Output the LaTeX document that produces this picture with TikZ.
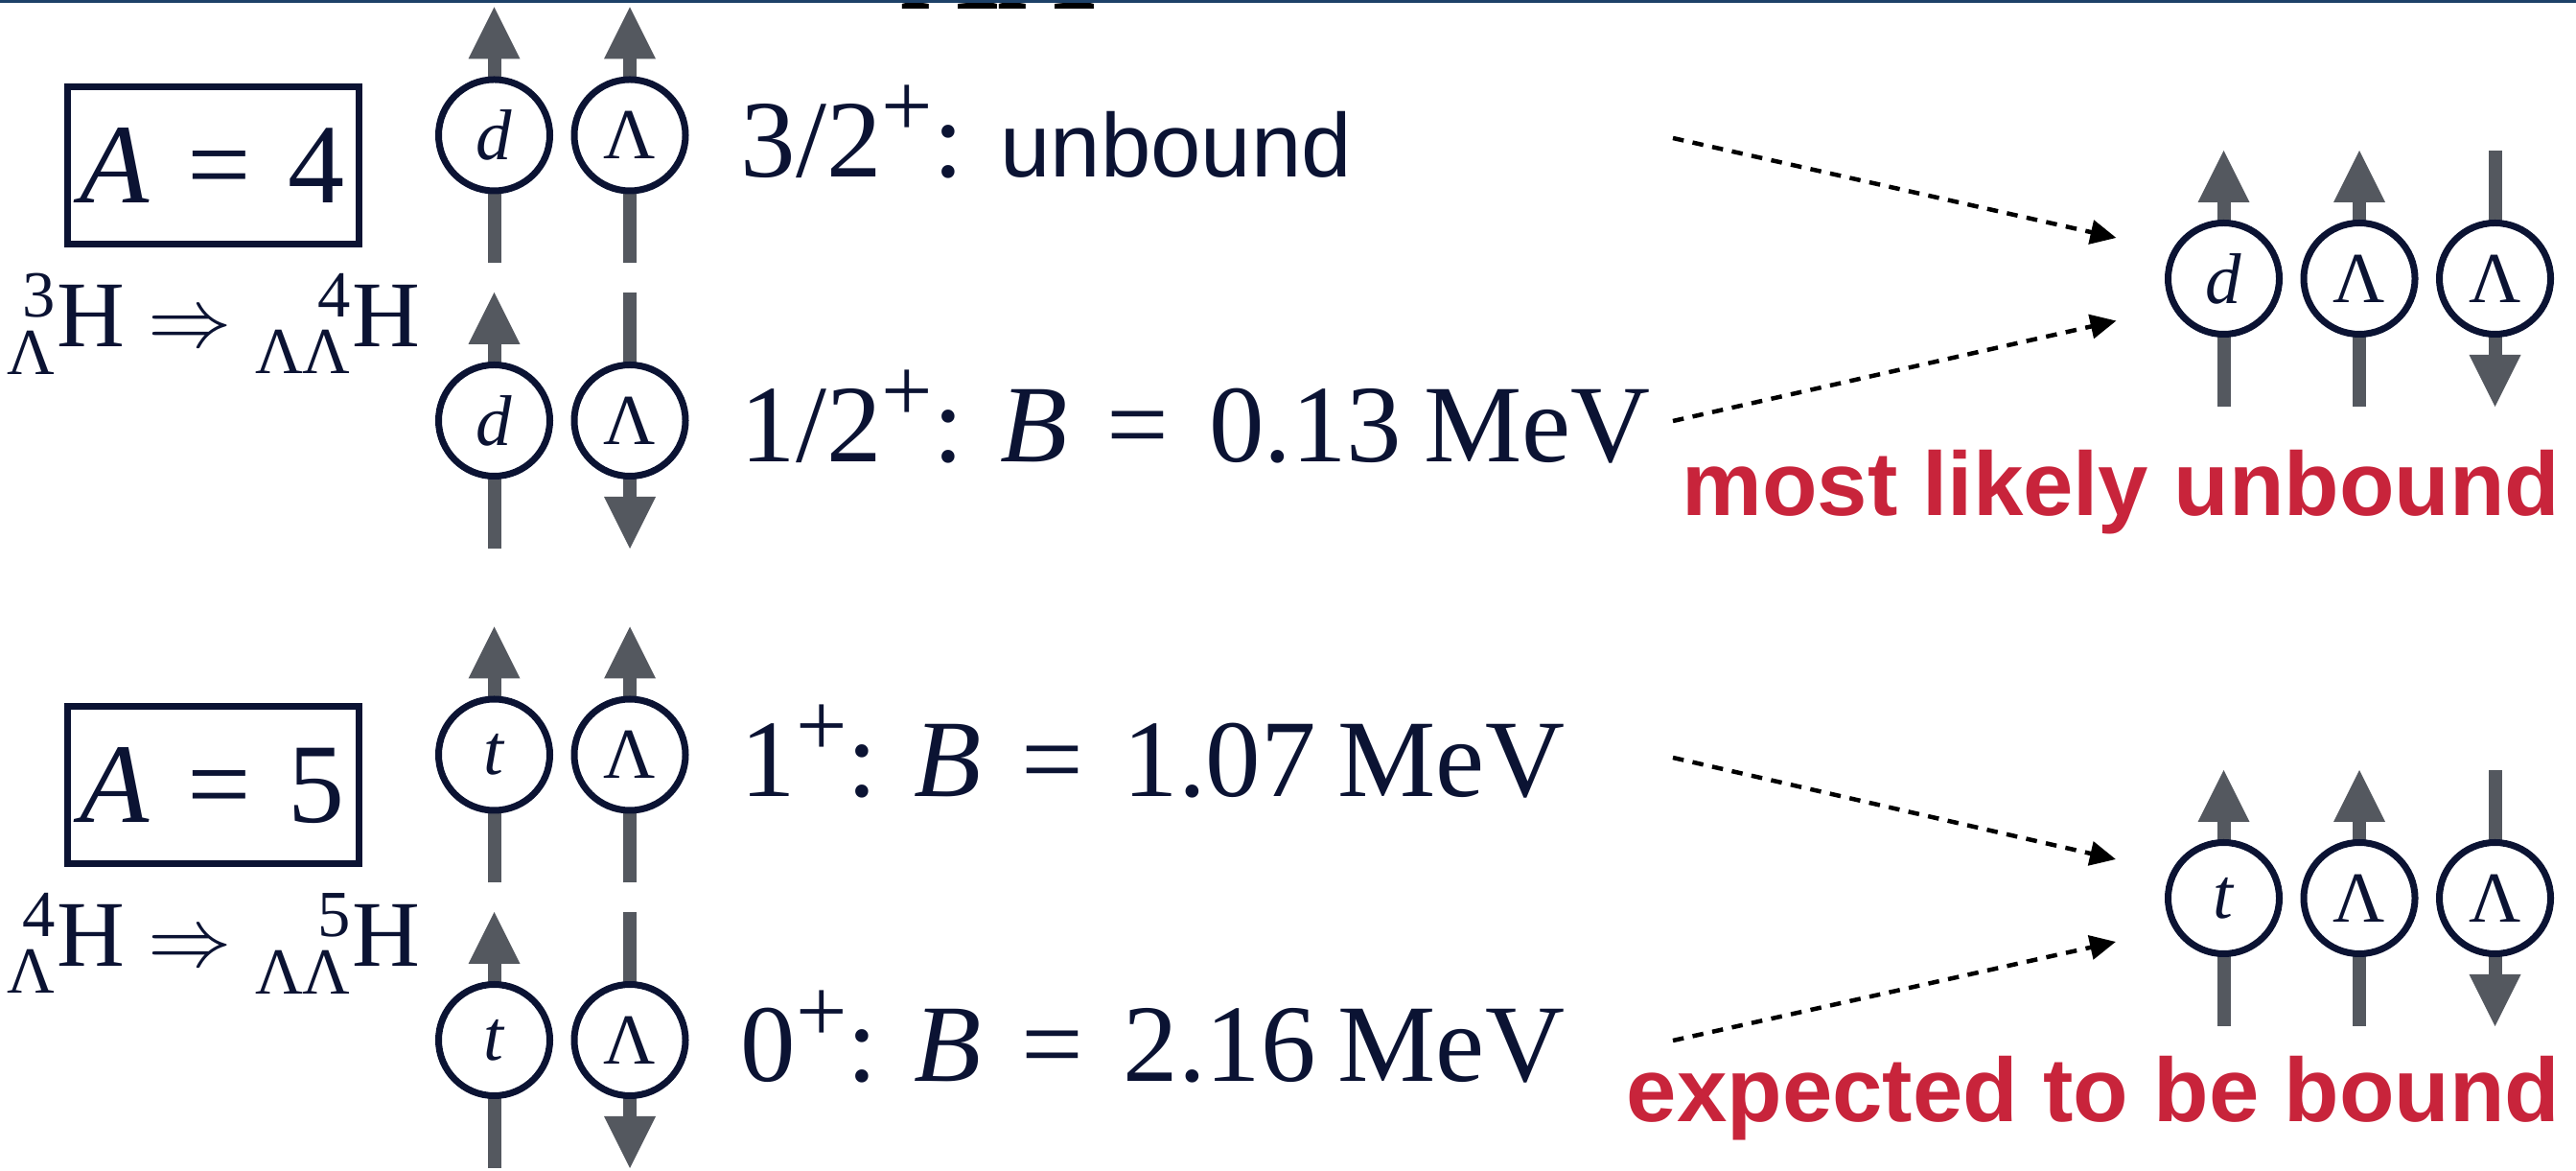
\documentclass[tikz,border=0pt]{standalone}
\usepackage{amsmath}
\usepackage{fontspec}
\setmainfont{Liberation Serif}
\setsansfont{Liberation Sans}
\usepackage{tikz}
\usetikzlibrary{arrows.meta,positioning}
\pgfdeclarelayer{back}
\pgfsetlayers{back,main}
\definecolor{ink}{HTML}{0B1333}
\definecolor{spingray}{HTML}{54585F}
\definecolor{alertred}{HTML}{C8243B}
\definecolor{barblue}{HTML}{1D4168}

\newcommand{\levelfont}{\fontsize{32.7}{36}\selectfont}
\newcommand{\boxfont}{\fontsize{33.6}{36}\selectfont}
\newcommand{\nuclfont}{\fontsize{27.9}{30}\selectfont}
\newcommand{\partfont}{\fontsize{21.3}{24}\selectfont}
\newcommand{\notefont}{\sffamily\fontsize{26.8}{30}\selectfont}
\newcommand{\parplus}{\raisebox{0.42cm}{\fontsize{27}{27}\selectfont +}}
\newcommand{\bind}[1]{\textit{B}\hspace{0.36em}=\hspace{0.36em}#1\hspace{0.2em}MeV}

\tikzset{
  particle/.style={circle,draw=ink,line width=0.07cm,fill=white,minimum size=1.16cm,
    inner sep=0pt,text=ink,font=\partfont},
  spin/.style={draw=spingray,line width=0.14cm,
    -{Triangle[length=0.54cm,width=0.54cm,line width=0pt]}},
  hint/.style={draw=black,line width=0.045cm,dash pattern=on 0.115cm off 0.095cm,
    -{Triangle[length=0.27cm,width=0.25cm]}},
  massbox/.style={draw=ink,line width=0.07cm,minimum width=3.04cm,minimum height=1.64cm,
    inner sep=0pt,text=ink,font=\boxfont},
  nucl/.style={anchor=base west,inner sep=0pt,text=ink,font=\nuclfont},
  stateline/.style={anchor=base west,inner sep=0pt,text=ink,font=\levelfont},
  verdict/.style={anchor=base east,inner sep=0pt,text=alertred,font=\notefont\bfseries}
}

\begin{document}
\begin{tikzpicture}
  \useasboundingbox (0,0) rectangle (26.87,12.21);
  \node[anchor=base west,inner sep=0pt,font=\fontsize{40}{40}\selectfont\bfseries] (cut) at (9.40,12.11) {ΛΛ};
  \fill[barblue] (0,12.175) rectangle (26.87,12.21);

  % A = 4
  \node[massbox] (box4) at (2.22,10.48) {\textit{A}\hspace{0.33em}=\hspace{0.33em}4};
  \node[nucl] (nucl4) at (0.07,8.59) {${}^{\text{\phantom{Λ}\llap{3}}}_{\text{Λ}}\text{H}\Rightarrow{}^{\text{\phantom{ΛΛ}\llap{4}}}_{\text{ΛΛ}}\text{H}$};

  \node[particle] (d4a) at (5.155,10.80) {\textit{d}};
  \node[particle,right=0.185cm of d4a] (l4a) {Λ};
  \node[particle] (d4b) at (5.155,7.825) {\textit{d}};
  \node[particle,right=0.185cm of d4b] (l4b) {Λ};

  \node[stateline] (s4a) at (7.72,10.36) {3/2\parplus: {\notefont unbound}};
  \node[stateline] (s4b) at (7.72,7.39) {1/2\parplus: \bind{0.13}};

  \node[particle] (d4r) at (23.195,9.305) {\textit{d}};
  \node[particle,right=0.185cm of d4r] (l4r) {Λ};
  \node[particle,right=0.185cm of l4r] (m4r) {Λ};

  \coordinate (from4a) at (17.45,10.77);
  \coordinate (to4a) at (22.075,9.73);
  \coordinate (from4b) at (17.45,7.82);
  \coordinate (to4b) at (22.075,8.865);
  \draw[hint] (from4a) -- (to4a);
  \draw[hint] (from4b) -- (to4b);
  \node[verdict] (v4) at (26.71,6.83) {most likely unbound};

  % A = 5
  \node[massbox] (box5) at (2.22,4.02) {\textit{A}\hspace{0.33em}=\hspace{0.33em}5};
  \node[nucl] (nucl5) at (0.07,2.13) {${}^{\text{\phantom{Λ}\llap{4}}}_{\text{Λ}}\text{H}\Rightarrow{}^{\text{\phantom{ΛΛ}\llap{5}}}_{\text{ΛΛ}}\text{H}$};

  \node[particle] (t5c) at (5.155,4.34) {\textit{t}};
  \node[particle,right=0.185cm of t5c] (l5c) {Λ};
  \node[particle] (t5d) at (5.155,1.365) {\textit{t}};
  \node[particle,right=0.185cm of t5d] (l5d) {Λ};

  \node[stateline] (s5c) at (7.72,3.90) {1\parplus: \bind{1.07}};
  \node[stateline] (s5d) at (7.72,0.93) {0\parplus: \bind{2.16}};

  \node[particle] (t5r) at (23.195,2.845) {\textit{t}};
  \node[particle,right=0.185cm of t5r] (l5r) {Λ};
  \node[particle,right=0.185cm of l5r] (m5r) {Λ};

  \coordinate (from5c) at (17.45,4.31);
  \coordinate (to5c) at (22.07,3.25);
  \coordinate (from5d) at (17.45,1.36);
  \coordinate (to5d) at (22.07,2.39);
  \draw[hint] (from5c) -- (to5c);
  \draw[hint] (from5d) -- (to5d);
  \node[verdict] (v5) at (26.71,0.51) {expected to be bound};

  \begin{pgfonlayer}{back}
    \draw[spin] ([yshift=-1.335cm]d4a.center) -- ([yshift=1.335cm]d4a.center);
    \draw[spin] ([yshift=-1.335cm]l4a.center) -- ([yshift=1.335cm]l4a.center);
    \draw[spin] ([yshift=-1.335cm]d4b.center) -- ([yshift=1.335cm]d4b.center);
    \draw[spin] ([yshift=1.335cm]l4b.center) -- ([yshift=-1.335cm]l4b.center);
    \draw[spin] ([yshift=-1.335cm]d4r.center) -- ([yshift=1.335cm]d4r.center);
    \draw[spin] ([yshift=-1.335cm]l4r.center) -- ([yshift=1.335cm]l4r.center);
    \draw[spin] ([yshift=1.335cm]m4r.center) -- ([yshift=-1.335cm]m4r.center);
    \draw[spin] ([yshift=-1.335cm]t5c.center) -- ([yshift=1.335cm]t5c.center);
    \draw[spin] ([yshift=-1.335cm]l5c.center) -- ([yshift=1.335cm]l5c.center);
    \draw[spin] ([yshift=-1.335cm]t5d.center) -- ([yshift=1.335cm]t5d.center);
    \draw[spin] ([yshift=1.335cm]l5d.center) -- ([yshift=-1.335cm]l5d.center);
    \draw[spin] ([yshift=-1.335cm]t5r.center) -- ([yshift=1.335cm]t5r.center);
    \draw[spin] ([yshift=-1.335cm]l5r.center) -- ([yshift=1.335cm]l5r.center);
    \draw[spin] ([yshift=1.335cm]m5r.center) -- ([yshift=-1.335cm]m5r.center);
  \end{pgfonlayer}
\end{tikzpicture}
\end{document}
